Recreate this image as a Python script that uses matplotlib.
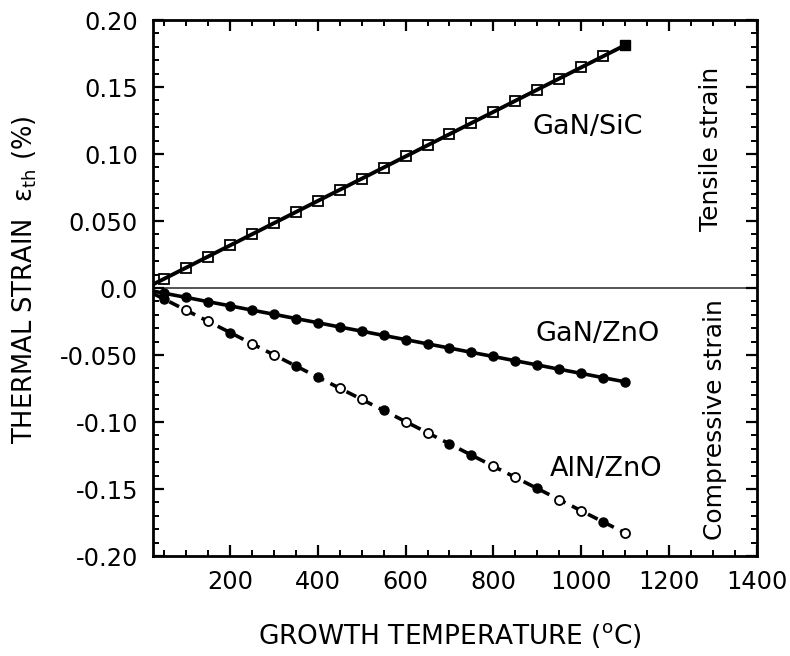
import matplotlib
matplotlib.use('Agg')
import matplotlib.pyplot as plt
from matplotlib.ticker import MultipleLocator, FixedLocator, FixedFormatter

# thermal strain vs growth temperature
temps = [25, 50, 100, 150, 200, 250, 300, 350, 400, 450, 500, 550,
         600, 650, 700, 750, 800, 850, 900, 950, 1000, 1050, 1100]
gan_sic = [0.0028, 0.0069, 0.0152, 0.0235, 0.0318, 0.0401, 0.0484, 0.0567,
           0.0650, 0.0733, 0.0816, 0.0899, 0.0982, 0.1065, 0.1148, 0.1231,
           0.1314, 0.1397, 0.1480, 0.1563, 0.1646, 0.1729, 0.1812]
gan_zno = [-0.0023, -0.0039, -0.0070, -0.0102, -0.0133, -0.0165, -0.0196,
           -0.0228, -0.0259, -0.0291, -0.0322, -0.0354, -0.0385, -0.0417,
           -0.0448, -0.0480, -0.0511, -0.0543, -0.0574, -0.0606, -0.0637,
           -0.0669, -0.0700]
aln_zno = [-0.0042, -0.0083, -0.0166, -0.0249, -0.0332, -0.0416, -0.0499,
           -0.0582, -0.0665, -0.0748, -0.0831, -0.0914, -0.0997, -0.1080,
           -0.1163, -0.1247, -0.1330, -0.1413, -0.1496, -0.1579, -0.1662,
           -0.1745, -0.1828]
# AlN/ZnO mixes open and filled symbols
aln_open_temps = [100, 150, 250, 300, 450, 500, 600, 650, 800, 850, 950, 1000, 1100]

xticks = [200, 400, 600, 800, 1000, 1200, 1400]
yticks = [0.20, 0.15, 0.10, 0.05, 0.0, -0.05, -0.10, -0.15, -0.20]
ytick_labels = ['0.20', '0.15', '0.10', '0.050', '0.0', '-0.050', '-0.10', '-0.15', '-0.20']

fig = plt.figure(figsize=(7.9, 6.56), dpi=100)
ax = fig.add_axes([0.194, 0.1524, 0.7638, 0.8171])

ax.axhline(0, color='0.15', lw=1.1, zorder=1)

# GaN/SiC : solid line, open squares, last one filled
ax.plot(temps, gan_sic, '-', color='k', lw=2.8, zorder=2)
ax.plot(temps[1:-1], gan_sic[1:-1], 's', ms=6.5, mfc='none', mec='k', mew=1.3, zorder=3)
ax.plot(temps[-1:], gan_sic[-1:], 's', ms=6.5, mfc='k', mec='k', zorder=3)

# GaN/ZnO : solid line, filled circles
ax.plot(temps, gan_zno, '-', color='k', lw=2.6, zorder=2)
ax.plot(temps[1:], gan_zno[1:], 'o', ms=6.5, mfc='k', mec='k', zorder=3)

# AlN/ZnO : dashed line, open + filled circles
ax.plot(temps, aln_zno, '--', color='k', lw=2.6, dashes=(3, 2), zorder=2)
t_open = [t for t in temps[1:] if t in aln_open_temps]
v_open = [v for t, v in zip(temps[1:], aln_zno[1:]) if t in aln_open_temps]
t_fill = [t for t in temps[1:] if t not in aln_open_temps]
v_fill = [v for t, v in zip(temps[1:], aln_zno[1:]) if t not in aln_open_temps]
ax.plot(t_fill, v_fill, 'o', ms=6.5, mfc='k', mec='k', zorder=3)
ax.plot(t_open, v_open, 'o', ms=6.5, mfc='white', mec='k', mew=1.3, zorder=3)

ax.set_xlim(25, 1400)
ax.set_ylim(-0.20, 0.20)

ax.xaxis.set_major_locator(FixedLocator(xticks))
ax.xaxis.set_minor_locator(MultipleLocator(50))
ax.yaxis.set_major_locator(FixedLocator(yticks))
ax.yaxis.set_major_formatter(FixedFormatter(ytick_labels))
ax.yaxis.set_minor_locator(MultipleLocator(0.01))

ax.tick_params(which='both', direction='in', top=True, right=True,
               labelsize=17.3, color='k')
ax.tick_params(which='major', length=8, width=1.6)
ax.tick_params(which='minor', length=4.5, width=1.4)
ax.tick_params(axis='x', which='major', pad=10)
ax.tick_params(axis='y', which='major', pad=11)
for sp in ax.spines.values():
    sp.set_linewidth(2.0)

# annotations
ax.text(1015, 0.120, 'GaN/SiC', fontsize=19.5, ha='center', va='center')
ax.text(1037, -0.034, 'GaN/ZnO', fontsize=19.5, ha='center', va='center')
ax.text(1058, -0.135, 'AlN/ZnO', fontsize=19.5, ha='center', va='center')
ax.text(1295, 0.104, 'Tensile strain', fontsize=18, rotation=90,
        ha='center', va='center')
ax.text(1305, -0.098, 'Compressive strain', fontsize=18, rotation=90,
        ha='center', va='center')

fig.text(450 / 790, 1 - 636 / 656, 'GROWTH TEMPERATURE ($^{\\mathrm{o}}$C)',
         fontsize=19, ha='center', va='center')
fig.text(25 / 790, 1 - 280 / 656, 'THERMAL STRAIN  ε$_{\\mathrm{th}}$ (%)',
         fontsize=18.5, rotation=90, ha='center', va='center')

fig.savefig('out.png', dpi=100)
